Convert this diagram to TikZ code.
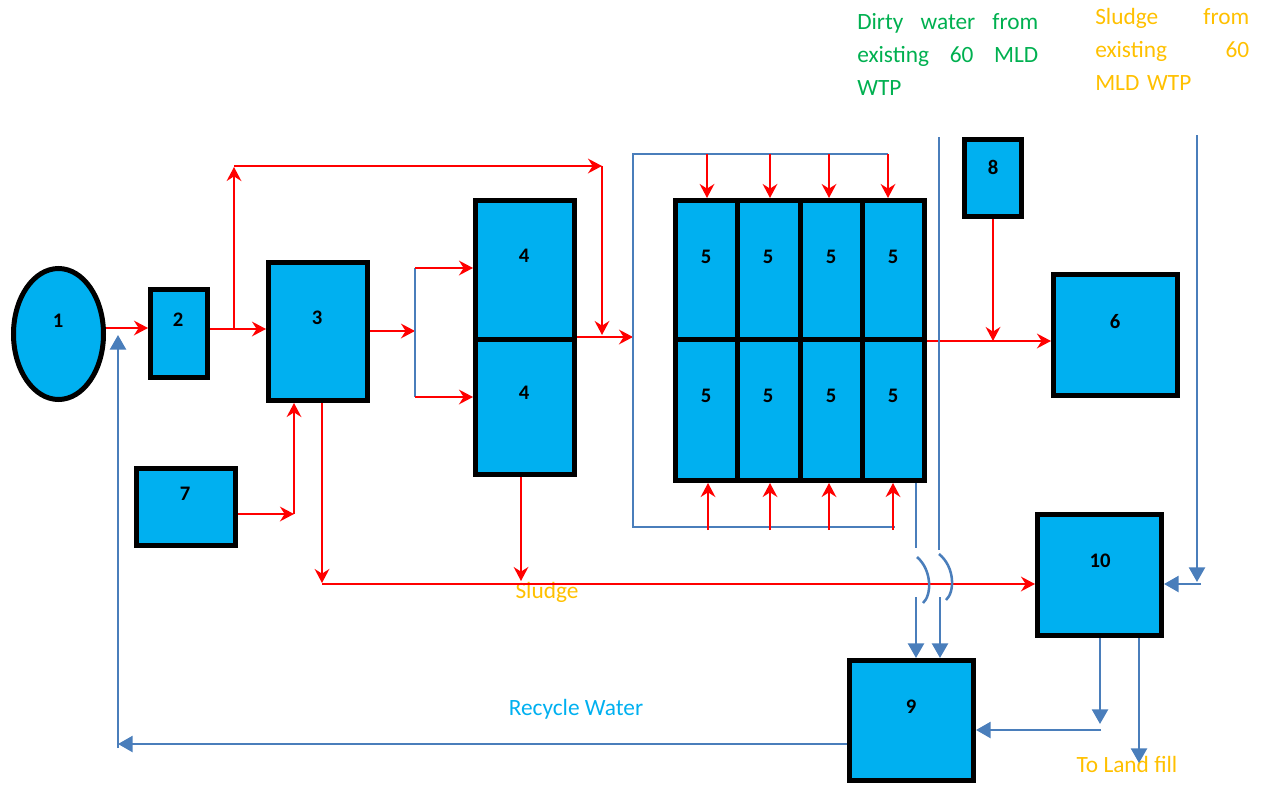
\documentclass[tikz,border=0pt]{standalone}
\usepackage{fontspec}
\setmainfont{Carlito}
\usetikzlibrary{arrows.meta,shapes.geometric}
\definecolor{boxblue}{HTML}{00B0F0}
\definecolor{lineblue}{HTML}{4A7EBB}
\definecolor{txtgreen}{HTML}{00B050}
\definecolor{txtorange}{HTML}{FFC000}
\tikzset{
  unit/.style={draw=black, line width=3.75pt, fill=boxblue, inner sep=0pt},
  num/.style={font=\fontsize{15.5}{18}\selectfont\bfseries, inner sep=0pt},
  rarr/.style={draw=red, line width=1.8pt, -{Stealth[length=10.5pt,width=11pt,inset=3.5pt]}},
  barr/.style={draw=lineblue, line width=1.9pt, -{Triangle[length=11pt,width=12pt]}},
  bline/.style={draw=lineblue, line width=1.9pt},
  bthin/.style={draw=lineblue, line width=1pt},
  note/.style={font=\fontsize{17.5}{24.5}\selectfont, inner sep=0pt},
}
\begin{document}
\begin{tikzpicture}[x=0.75pt,y=-0.75pt]
\useasboundingbox (0,0) rectangle (1268,785);

% units
\node[unit, ellipse, minimum width=67.5pt, minimum height=98.25pt] (b1) at (58.5,334) {};
\node[unit, minimum width=42.75pt, minimum height=66pt] (b2) at (179,333.5) {};
\node[unit, minimum width=74.25pt, minimum height=103.5pt] (b3) at (318,331.5) {};
\node[unit, minimum width=74.25pt, minimum height=103.875pt] (b4a) at (525,269.75) {};
\node[unit, minimum width=74.25pt, minimum height=101.625pt] (b4b) at (525,406.75) {};
\node[unit, minimum width=46.125pt, minimum height=104.25pt] (c11) at (706.25,270) {};
\node[unit, minimum width=47.25pt, minimum height=104.25pt] (c12) at (768.5,270) {};
\node[unit, minimum width=46.875pt, minimum height=104.25pt] (c13) at (831.25,270) {};
\node[unit, minimum width=46.5pt, minimum height=104.25pt] (c14) at (893.5,270) {};
\node[unit, minimum width=46.125pt, minimum height=105.75pt] (c21) at (706.25,410) {};
\node[unit, minimum width=47.25pt, minimum height=105.75pt] (c22) at (768.5,410) {};
\node[unit, minimum width=46.875pt, minimum height=105.75pt] (c23) at (831.25,410) {};
\node[unit, minimum width=46.5pt, minimum height=105.75pt] (c24) at (893.5,410) {};
\node[unit, minimum width=93pt, minimum height=90.75pt] (b6) at (1115.5,335) {};
\node[unit, minimum width=74.25pt, minimum height=57.75pt] (b7) at (186,507) {};
\node[unit, minimum width=42.75pt, minimum height=57.75pt] (b8) at (993,178) {};
\node[unit, minimum width=93pt, minimum height=90pt] (b9) at (911.5,720.5) {};
\node[unit, minimum width=93pt, minimum height=90.75pt] (b10) at (1099.5,575) {};

% labels
\node[num] (t1) at (58,321) {1};
\node[num] (t2) at (178,320) {2};
\node[num] (t3) at (317,318) {3};
\node[num] (t4a) at (524,256) {4};
\node[num] (t4b) at (524,393) {4};
\node[num] (t11) at (706,257) {5};
\node[num] (t12) at (768,257) {5};
\node[num] (t13) at (831,257) {5};
\node[num] (t14) at (893,257) {5};
\node[num] (t21) at (706,396) {5};
\node[num] (t22) at (768,396) {5};
\node[num] (t23) at (831,396) {5};
\node[num] (t24) at (893,396) {5};
\node[num] (t6) at (1115,322) {6};
\node[num] (t7) at (185,494) {7};
\node[num] (t8) at (993,167) {8};
\node[num] (t9) at (911,707) {9};
\node[num] (t10) at (1100,561) {10};

% texts
\node[note, text=txtgreen, text width=135.75pt, align=left, anchor=base west] (dirty) at (857,30)
  {Dirty\hfill water\hfill from\\ existing\hfill 60\hfill MLD\\ WTP};
\node[note, text=txtorange, text width=115.5pt, align=left, anchor=base west] (sludgein) at (1095,25)
  {Sludge\hfill from\\ existing\hfill 60\\ MLD WTP};
\node[note, text=txtorange, anchor=base] (sludgelbl) at (547,598) {Sludge};
\node[note, text=boxblue, anchor=base] (recyc) at (576,715) {Recycle Water};
\node[note, text=txtorange, anchor=base] (landfill) at (1127,772) {To Land fill};

% coordinates
\coordinate (j1) at (234,329);
\coordinate (j1t) at (234,166);
\coordinate (j2) at (602,166);
\coordinate (j3) at (602,335);
\coordinate (sp) at (415,331);
\coordinate (spt) at (415,268);
\coordinate (spb) at (415,397);
\coordinate (fin) at (633,337);
\coordinate (ftl) at (633,154);
\coordinate (ftr) at (888,154);
\coordinate (fbl) at (633,527);
\coordinate (fbr) at (895,527);
\coordinate (s3) at (322,583);
\coordinate (s3h) at (322,584);
\coordinate (s4) at (521,581);
\coordinate (j7) at (294,514);

% red flows
\draw[rarr] (b1.east |- 0,328) -- (b2.west |- 0,328);
\draw[rarr] (b2.east |- 0,329) -- (b3.west |- 0,329);
\draw[rarr] (j1) -- (234,167);
\draw[rarr] (j1t) -- (j2);
\draw[rarr] (j2) -- (j3);
\draw[rarr] (b3.east |- sp) -- (sp);
\draw[bthin] (spt) -- (spb);
\draw[rarr] (spt) -- (b4a.west |- spt);
\draw[rarr] (spb) -- (b4b.west |- spb);
\draw[rarr] (b4a.east |- fin) -- (fin);
\draw[bthin] (ftr) -- (ftl) -- (fbl) -- (fbr);
\draw[rarr] (707,154) -- (c11.north -| 707,0);
\draw[rarr] (770,154) -- (c12.north -| 770,0);
\draw[rarr] (829,154) -- (c13.north -| 829,0);
\draw[rarr] (888,154) -- (c14.north -| 888,0);
\draw[rarr] (708,530) -- (c21.south -| 708,0);
\draw[rarr] (770,530) -- (c22.south -| 770,0);
\draw[rarr] (829,530) -- (c23.south -| 829,0);
\draw[rarr] (893,530) -- (c24.south -| 893,0);
\draw[rarr] (c24.east |- 0,341) -- (b6.west |- 0,341);
\draw[rarr] (b8.south) -- (b8.south |- 0,341);
\draw[rarr] (b3.south -| s3) -- (s3);
\draw[rarr] (s3h) -- (b10.west |- s3h);
\draw[rarr] (b4b.south -| s4) -- (s4);
\draw[rarr] (b7.east |- j7) -- (j7);
\draw[rarr] (j7) -- (b3.south -| j7);

% blue flows
\draw[bline] (939,137) -- (939,550);
\draw[bline] (939,554) .. controls (955,567) and (955,592) .. (946,600);
\draw[barr] (940,597) -- (b9.north -| 940,0);
\draw[bline] (c24.south -| 916,0) -- (916,548);
\draw[bline] (917,557) .. controls (932,570) and (932,595) .. (923,603);
\draw[barr] (916,597) -- (b9.north -| 916,0);
\draw[barr] (1197,135) -- (1197,582);
\draw[barr] (1201,584) -- (b10.east |- 0,584);
\draw[barr] (b10.south -| 1100,0) -- (1100,724);
\draw[barr] (1101,730) -- (b9.east |- 0,730);
\draw[barr] (b10.south -| 1139,0) -- (1139,763);
\draw[barr] (b9.west |- 0,744) -- (118,744);
\draw[barr] (118,748) -- (118,335);
\end{tikzpicture}
\end{document}
